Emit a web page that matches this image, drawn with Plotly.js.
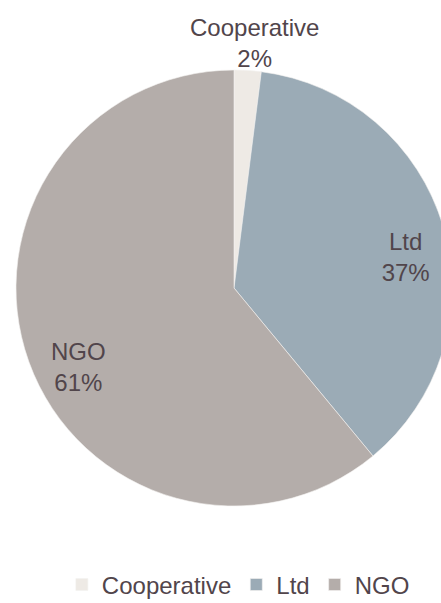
<!DOCTYPE html>
<html>
<head>
<meta charset="utf-8">
<script src="https://cdn.plot.ly/plotly-3.0.1.min.js"></script>
<style>
html, body { margin:0; padding:0; overflow:hidden; width:441px; height:603px; background:#fff; }
#chart { width:468px; height:603px; }
</style>
</head>
<body>
<div id="chart"></div>
<script>
var categories = ['Cooperative', 'Ltd', 'NGO'];
var shares = [2, 37, 61];
var titleText = 'Ownership';

var textColor = '#51454B';
var font = 'Liberation Sans, Arial, sans-serif';
var sliceColors = ['#EEEAE5', '#9BABB6', '#B4ADAA'];

var total = shares.reduce(function (a, b) { return a + b; }, 0);

// Base pie: draws the slices and the legend
var basePie = {
  type: 'pie',
  labels: categories,
  values: shares,
  sort: false,
  direction: 'clockwise',
  rotation: 0,
  marker: { colors: sliceColors, line: { color: '#F4F2F0', width: 0.6 } },
  textinfo: 'none',
  automargin: false,
  hoverinfo: 'label+percent',
  domain: { x: [0, 1], y: [0, 1] }
};

// Transparent ring overlays: carry the inside labels further out
function labelRing(positions, rot) {
  return {
    type: 'pie',
    labels: categories,
    values: shares,
    sort: false,
    direction: 'clockwise',
    rotation: rot,
    hole: 0.6,
    showlegend: false,
    marker: { colors: ['rgba(0,0,0,0)', 'rgba(0,0,0,0)', 'rgba(0,0,0,0)'], line: { width: 0 } },
    texttemplate: '%{label}<br>%{percent}',
    textposition: positions,
    insidetextorientation: 'horizontal',
    insidetextfont: { family: font, size: 24, color: textColor },
    automargin: false,
    hoverinfo: 'skip',
    domain: { x: [0, 1], y: [0, 1] }
  };
}

var layout = {
  width: 468,
  height: 603,
  margin: { l: 16, r: 16, t: 70, b: 97 },
  paper_bgcolor: '#ffffff',
  font: { family: font, color: textColor },
  showlegend: true,
  legend: {
    orientation: 'h',
    x: 0.51, xanchor: 'center',
    yref: 'container', y: 0.03, yanchor: 'middle',
    font: { family: font, size: 24, color: textColor },
    itemwidth: 30,
    traceorder: 'normal'
  },
  annotations: [
    {
      text: '<b>' + titleText + '</b>',
      xref: 'paper', yref: 'paper', x: 0, y: 1,
      xanchor: 'left', yanchor: 'bottom', xshift: -3, yshift: 68,
      showarrow: false,
      font: { family: font, size: 20, color: textColor }
    },
    {
      text: categories[0] + '<br>' + Math.round(shares[0] / total * 100) + '%',
      xref: 'paper', yref: 'paper', x: 0.546, y: 1.063,
      xanchor: 'center', yanchor: 'middle',
      showarrow: false,
      font: { family: font, size: 24, color: textColor }
    }
  ]
};

Plotly.newPlot('chart', [
  basePie,
  labelRing(['none', 'inside', 'none'], 6),
  labelRing(['none', 'none', 'inside'], -7)
], layout, { displayModeBar: false, staticPlot: true });
</script>
</body>
</html>
